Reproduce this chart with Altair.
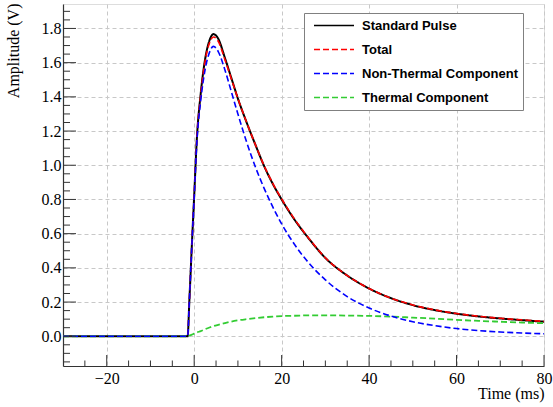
import altair as alt
import pandas as pd

# ---- data ----
time_ms = [-30, -1.5, -1.1, -0.5, 0, 0.6, 1.5, 2.5, 3.5, 4.4, 5.5, 7, 8.5, 10, 12, 14, 16, 18,
           20, 23, 26, 30, 35, 40, 45, 50, 55, 60, 65, 70, 75, 80]
standard_pulse = [0, 0, 0.21, 0.55, 0.82, 1.15, 1.42, 1.62, 1.73, 1.767, 1.74, 1.63, 1.51, 1.39,
                  1.25, 1.12, 0.995, 0.89, 0.80, 0.68, 0.578, 0.458, 0.355, 0.279, 0.223, 0.182,
                  0.153, 0.132, 0.116, 0.104, 0.094, 0.085]
total = [0, 0, 0.21, 0.55, 0.82, 1.15, 1.41, 1.61, 1.715, 1.75, 1.725, 1.62, 1.505, 1.39,
         1.25, 1.12, 0.997, 0.893, 0.803, 0.683, 0.58, 0.459, 0.355, 0.279, 0.223, 0.183,
         0.154, 0.133, 0.117, 0.105, 0.096, 0.087]
non_thermal = [0, 0, 0.21, 0.55, 0.81, 1.13, 1.38, 1.56, 1.66, 1.695, 1.665, 1.56, 1.43, 1.30,
               1.135, 0.99, 0.865, 0.755, 0.657, 0.535, 0.435, 0.33, 0.232, 0.165, 0.118,
               0.085, 0.062, 0.045, 0.033, 0.025, 0.019, 0.0145]
thermal = [0, 0, 0.004, 0.01, 0.015, 0.022, 0.03, 0.041, 0.051, 0.059, 0.067, 0.077, 0.086,
           0.093, 0.1, 0.106, 0.111, 0.115, 0.118, 0.12, 0.122, 0.122, 0.121, 0.119, 0.115,
           0.109, 0.103, 0.096, 0.09, 0.085, 0.08, 0.076]

series_names = ["Standard Pulse", "Total", "Non-Thermal Component", "Thermal Component"]
series_values = [standard_pulse, total, non_thermal, thermal]
series_colors = ["#000000", "#ff0000", "#0000ff", "#33cc33"]
series_dashes = [[1, 0], [6, 3], [6, 3], [6, 3]]
series_widths = [2.0, 1.6, 1.6, 1.8]
draw_order = ["Standard Pulse", "Total", "Thermal Component", "Non-Thermal Component"]

x_major = [-20, 0, 20, 40, 60, 80]
x_minor = [-25, -15, -10, -5, 5, 10, 15, 25, 30, 35, 45, 50, 55, 65, 70, 75]
y_major = [0.0, 0.2, 0.4, 0.6, 0.8, 1.0, 1.2, 1.4, 1.6, 1.8]
y_minor = [-0.15, -0.1, -0.05, 0.05, 0.1, 0.15, 0.25, 0.3, 0.35, 0.45, 0.5, 0.55, 0.65, 0.7,
           0.75, 0.85, 0.9, 0.95, 1.05, 1.1, 1.15, 1.25, 1.3, 1.35, 1.45, 1.5, 1.55, 1.65,
           1.7, 1.75, 1.85, 1.9]

rows = []
for name, vals in zip(series_names, series_values):
    for t, v in zip(time_ms, vals):
        rows.append({"time": t, "amp": v, "series": name})
df = pd.DataFrame(rows)

W, H = 481, 362
AXIS_COLOR = "#333333"
x_scale = alt.Scale(domain=[-30, 80], nice=False, zero=False)
y_scale = alt.Scale(domain=[-0.174, 1.943], nice=False, zero=False)

legend = alt.Legend(
    title=None, orient="none", legendX=241, legendY=9,
    symbolType="stroke", symbolSize=1600, symbolStrokeWidth=1.6,
    clipHeight=15, rowPadding=9, padding=5, symbolOffset=4, labelOffset=7,
    labelFont="Liberation Sans", labelFontWeight="bold", labelFontSize=13,
    labelColor="black", labelLimit=400,
    strokeColor="#808080", fillColor="white",
)

x_axis = alt.Axis(values=x_major, title="Time (ms)", format="d", ticks=False,
                  grid=True, gridColor="#c8c8c8", gridDash=[4, 3], gridWidth=1,
                  domainColor=AXIS_COLOR, domainWidth=1.2,
                  labelFont="Liberation Serif", labelFontSize=16, labelColor="black",
                  labelPadding=4, labelFlush=False,
                  titleFont="Liberation Serif", titleFontSize=16, titleFontWeight="normal",
                  titleColor="black", titleX=W, titleY=32, titleAlign="right",
                  titleBaseline="alphabetic")
y_axis = alt.Axis(values=y_major, title="Amplitude (V)", format=".1f", ticks=False,
                  grid=True, gridColor="#c8c8c8", gridDash=[4, 3], gridWidth=1,
                  domainColor=AXIS_COLOR, domainWidth=1.2,
                  labelFont="Liberation Serif", labelFontSize=16, labelColor="black",
                  labelPadding=2, labelFlush=False,
                  titleFont="Liberation Serif", titleFontSize=16, titleFontWeight="normal",
                  titleColor="black", titleAngle=270, titleX=-45, titleY=-1,
                  titleAlign="right", titleBaseline="alphabetic")

layers = []
for name in draw_order:
    i = series_names.index(name)
    layers.append(
        alt.Chart(df).transform_filter(alt.datum.series == name)
        .mark_line(strokeWidth=series_widths[i], interpolate="monotone")
        .encode(
            x=alt.X("time:Q", scale=x_scale, axis=x_axis),
            y=alt.Y("amp:Q", scale=y_scale, axis=y_axis),
            color=alt.Color("series:N", scale=alt.Scale(domain=series_names, range=series_colors),
                            legend=legend, sort=series_names),
            strokeDash=alt.StrokeDash("series:N",
                                      scale=alt.Scale(domain=series_names, range=series_dashes),
                                      legend=legend, sort=series_names),
        )
    )

# inward ticks (ROOT style)
y_major_ticks = alt.Chart(pd.DataFrame({"amp": y_major})).mark_rule(color=AXIS_COLOR).encode(
    y=alt.Y("amp:Q", scale=y_scale, axis=y_axis), x=alt.value(0), x2=alt.value(13))
y_minor_ticks = alt.Chart(pd.DataFrame({"amp": y_minor})).mark_rule(color=AXIS_COLOR).encode(
    y=alt.Y("amp:Q", scale=y_scale, axis=y_axis), x=alt.value(0), x2=alt.value(7))
x_major_ticks = alt.Chart(pd.DataFrame({"time": x_major})).mark_rule(color=AXIS_COLOR).encode(
    x=alt.X("time:Q", scale=x_scale, axis=x_axis), y=alt.value(H), y2=alt.value(H - 11))
x_minor_ticks = alt.Chart(pd.DataFrame({"time": x_minor})).mark_rule(color=AXIS_COLOR).encode(
    x=alt.X("time:Q", scale=x_scale, axis=x_axis), y=alt.value(H), y2=alt.value(H - 5.5))

chart = alt.layer(*layers, y_major_ticks, y_minor_ticks, x_major_ticks, x_minor_ticks).properties(
    width=W, height=H,
    autosize=alt.AutoSizeParams(type="none"),
    padding={"left": 63, "top": 4, "right": 9, "bottom": 41},
).configure_view(stroke="#8a8a8a", strokeWidth=1).configure(background="white")

chart.save("out.html", embed_options={"renderer": "svg", "actions": False})
